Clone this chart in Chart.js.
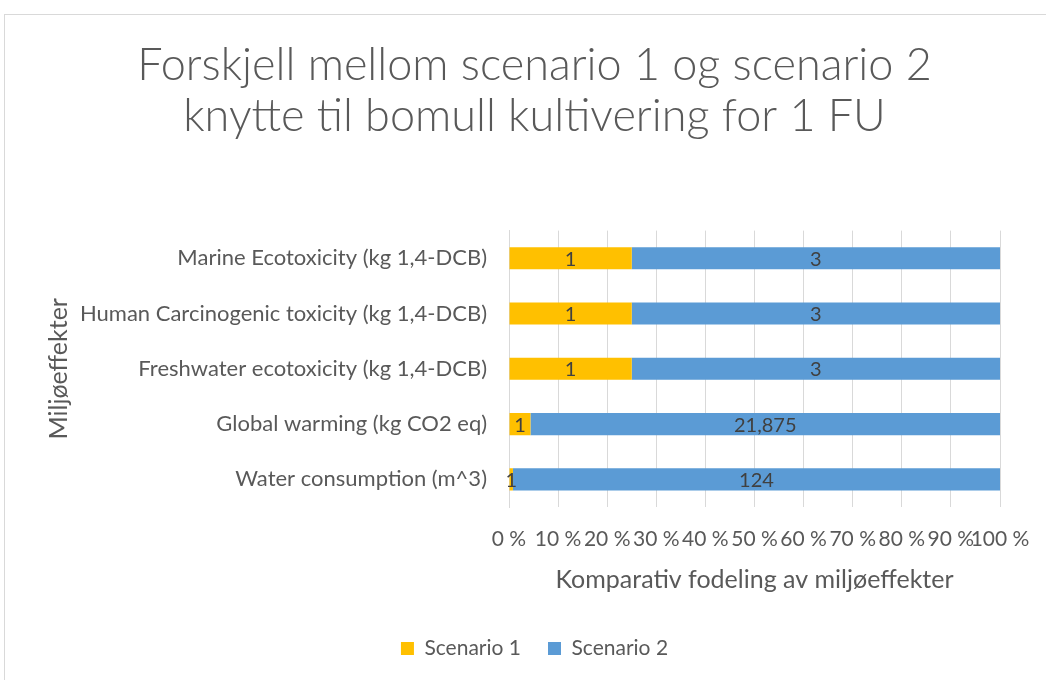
<!DOCTYPE html>
<html>
<head>
<meta charset="utf-8">
<script src="https://cdn.jsdelivr.net/npm/chart.js@4.4.1/dist/chart.umd.min.js"></script>
<style>
  html, body { margin: 0; padding: 0; background: #fff; overflow: hidden; }
  #frame {
    position: absolute; left: 4px; top: 14px;
    width: 1062px; height: 690px;
    border: 1px solid #d9d9d9; box-sizing: border-box;
  }
  #wrap { position: absolute; left: 5px; top: 15px; width: 1060px; height: 680px; }
</style>
</head>
<body>
<div id="frame"></div>
<div id="wrap"><canvas id="chart"></canvas></div>
<script>
const categories = [
  "Marine Ecotoxicity (kg 1,4-DCB)",
  "Human Carcinogenic toxicity (kg 1,4-DCB)",
  "Freshwater ecotoxicity (kg 1,4-DCB)",
  "Global warming (kg CO2 eq)",
  "Water consumption (m^3)"
];
const scenario1 = [1, 1, 1, 1, 1];
const scenario2 = [3, 3, 3, 21.875, 124];
const xTicks = [0, 10, 20, 30, 40, 50, 60, 70, 80, 90, 100];

const FONT = "Lato, 'Open Sans', sans-serif";
const GREY = "#595959";

// share of each scenario per category, in percent
const totals = scenario1.map((v, i) => v + scenario2[i]);
const pct1 = scenario1.map((v, i) => v / totals[i] * 100);
const pct2 = scenario2.map((v, i) => v / totals[i] * 100);

// prints the raw value in the middle of each segment
const valueLabels = {
  id: "valueLabels",
  afterDatasetsDraw(chart) {
    const ctx = chart.ctx;
    ctx.save();
    ctx.font = "20px " + FONT;
    ctx.fillStyle = "#404040";
    ctx.textAlign = "center";
    ctx.textBaseline = "middle";
    chart.data.datasets.forEach((ds, di) => {
      chart.getDatasetMeta(di).data.forEach((bar, i) => {
        const txt = ds.raw[i].toLocaleString("nb-NO");
        ctx.fillText(txt, (bar.x + bar.base) / 2, bar.y + 1);
      });
    });
    ctx.restore();
  }
};

new Chart(document.getElementById("chart"), {
  type: "bar",
  data: {
    labels: categories,
    datasets: [
      { label: "Scenario 1", data: pct1, raw: scenario1, backgroundColor: "#FFC000" },
      { label: "Scenario 2", data: pct2, raw: scenario2, backgroundColor: "#5B9BD5" }
    ]
  },
  options: {
    indexAxis: "y",
    responsive: true,
    maintainAspectRatio: false,
    animation: false,
    categoryPercentage: 0.4,
    barPercentage: 1,
    // equal side padding keeps title and legend centred on the frame
    layout: { padding: { left: 64, right: 65, top: 25, bottom: 26 } },
    plugins: {
      title: {
        display: true,
        text: ["Forskjell mellom scenario 1 og scenario 2", "knytte til bomull kultivering for 1 FU"],
        color: GREY,
        font: { family: FONT, size: 45, weight: "300", lineHeight: 1.14 },
        padding: { top: 0, bottom: 88 }
      },
      legend: {
        position: "bottom",
        labels: {
          color: GREY,
          font: { family: FONT, size: 21 },
          boxWidth: 13, boxHeight: 13, padding: 27
        }
      },
      tooltip: { enabled: false }
    },
    scales: {
      x: {
        stacked: true,
        min: 0, max: 100,
        afterBuildTicks(scale) { scale.ticks = xTicks.map(v => ({ value: v })); },
        afterFit(scale) { scale.height = 104; },
        ticks: {
          color: GREY, padding: 20,
          font: { family: FONT, size: 21 },
          callback: v => v + " %",
          maxRotation: 0, autoSkip: false
        },
        grid: { color: "#d9d9d9", drawTicks: false },
        border: { display: false },
        title: {
          display: true, text: "Komparativ fodeling av miljøeffekter",
          color: GREY, font: { family: FONT, size: 25 }, padding: { top: 0, bottom: 16 }
        }
      },
      y: {
        stacked: true,
        afterFit(scale) { scale.width = 440; },
        ticks: { color: GREY, padding: 22, font: { family: FONT, size: 22 } },
        grid: { display: false, drawTicks: false },
        border: { color: "#d9d9d9" },
        title: {
          display: true, text: "Miljøeffekter",
          color: GREY, font: { family: FONT, size: 25 }, padding: { top: -25, bottom: 0 }
        }
      }
    }
  },
  plugins: [valueLabels]
});
</script>
</body>
</html>
